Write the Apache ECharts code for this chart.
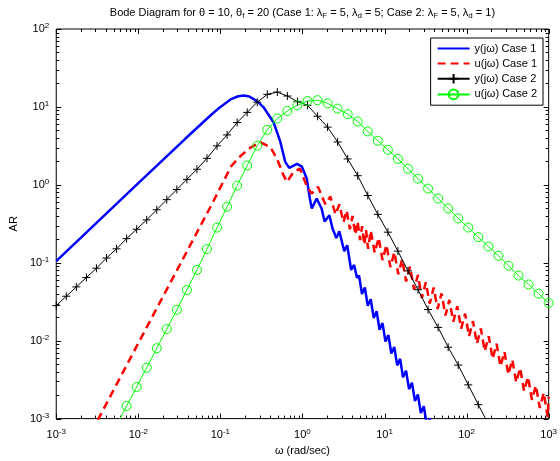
<!DOCTYPE html>
<html><head><meta charset="utf-8">
<script src="https://cdn.jsdelivr.net/npm/echarts@6/dist/echarts.min.js"></script>
<style>html,body{margin:0;padding:0;background:#fff}#c{width:560px;height:461px}</style>
</head><body><div id="c"></div>
<script>
// ---------- data ----------
const xTickValues = [0.001, 0.01, 0.1, 1, 10, 100, 1000];
const yTickValues = [0.001, 0.01, 0.1, 1, 10, 100];

// Case 1, y(jw)
const wCase1Y = [0.001, 0.01, 0.0373, 0.078, 0.1, 0.1355, 0.165, 0.194, 0.225, 0.255, 0.295, 0.336, 0.444, 0.538, 0.617, 0.689, 0.859, 0.986, 1.13, 1.23, 1.30, 1.49, 1.71, 1.86, 2.13, 2.32, 2.59, 2.81, 3.23, 3.51, 3.92, 4.26, 4.62,
  4.89, 5.31, 5.76, 6.25, 6.79, 7.38, 8.01, 8.70, 9.45, 10.27, 11.15, 12.11, 13.15, 14.28, 15.5, 16.8, 18.3, 19.9, 21.6, 23.5, 25.5, 27.7, 30.1, 32.7, 35.6, 38.6];
const arCase1Y = [0.105, 1.05, 3.9, 8.0, 10.0, 12.6, 13.7, 14.0, 13.6, 12.6, 11.3, 9.89, 6.37, 3.55, 1.97, 1.65, 1.86, 1.71, 1.20, 0.667, 0.498, 0.667, 0.498, 0.340, 0.406, 0.277, 0.207, 0.254, 0.141, 0.168, 0.0809, 0.0937, 0.0641,
  0.0685, 0.0397, 0.0481, 0.0280, 0.0340, 0.0196, 0.0239, 0.0138, 0.0168, 0.00974, 0.0118, 0.00685, 0.00831, 0.00482, 0.00584, 0.00339, 0.00412, 0.00239, 0.00289, 0.00168, 0.00204, 0.00118, 0.00144, 0.00083, 0.00101, 0.0006];

// Case 1, u(jw)
const wCase1U = [0.0027, 0.01, 0.0373, 0.08, 0.1355, 0.178, 0.235, 0.310, 0.408, 0.491, 0.589, 0.647, 0.777, 0.933, 1.12, 1.29, 1.55,
  1.90, 2.19, 2.53, 2.82, 3.16, 3.45, 3.79, 4.07, 4.41, 4.70, 5.04, 5.33, 5.67, 5.96, 6.30,
  6.80, 7.59, 8.48, 9.46, 10.57, 11.80, 13.18, 14.72, 16.43, 18.34, 20.48, 22.87, 25.54, 28.52, 31.84, 35.56, 39.71, 44.34, 49.51, 55.28, 61.72, 68.92, 76.96, 85.93, 95.94,
  107.1, 119.6, 133.6, 149.2, 166.6, 186.0, 207.7, 231.9, 258.9, 289.1, 322.8, 360.6, 402.5, 449.5, 502.0, 560.4, 625.8, 698.7, 780.2, 871.1, 972.7, 1000];
const arCase1U = [0.00068, 0.0093, 0.127, 0.582, 1.74, 2.37, 3.03, 3.51, 3.03, 2.15, 1.32, 1.09, 1.46, 1.61, 0.986, 0.773, 0.94,
  0.562, 0.708, 0.417, 0.562, 0.331, 0.468, 0.269, 0.398, 0.229, 0.339, 0.195, 0.295, 0.170, 0.263, 0.151,
  0.259, 0.134, 0.209, 0.108, 0.170, 0.0879, 0.137, 0.0711, 0.111, 0.0575, 0.0891, 0.0453, 0.0695, 0.0353, 0.0561, 0.0299, 0.0480, 0.0255, 0.0404, 0.0211, 0.0334, 0.0175, 0.0277, 0.0143, 0.0222,
  0.0114, 0.0178, 0.00916, 0.0143, 0.00733, 0.0114, 0.00586, 0.00912, 0.00467, 0.00721, 0.00369, 0.00570, 0.00292, 0.00446, 0.00225, 0.00344, 0.00174, 0.00266, 0.00137, 0.00215, 0.00105, 0.0019];

// Case 2 frequency grid (marker positions)
const wCase2 = [0.001, 0.001326, 0.001758, 0.00233, 0.003089, 0.004095, 0.005429, 0.007197, 0.009541, 0.01265,
  0.01677, 0.02223, 0.02947, 0.03907, 0.05179, 0.06866, 0.09103, 0.1207, 0.16, 0.2121,
  0.2812, 0.3728, 0.4942, 0.6551, 0.8685, 1.151, 1.526, 2.024, 2.683, 3.556,
  4.715, 6.251, 8.286, 10.99, 14.56, 19.31, 25.6, 33.93, 44.98, 59.64,
  79.06, 104.8, 138.9, 184.2, 244.2, 323.7, 429.2, 568.9, 754.3, 1000];
const arCase2Y = [0.0282, 0.0372, 0.049, 0.0646, 0.0851, 0.115, 0.151, 0.204, 0.269, 0.355,
  0.479, 0.646, 0.871, 1.175, 1.585, 2.19, 3.16, 4.37, 6.31, 8.51,
  11.5, 14.5, 15.5, 13.8, 11.7, 10.5, 7.59, 5.5, 3.55, 2.15,
  1.31, 0.73, 0.418, 0.247, 0.141, 0.0787, 0.0451, 0.0251, 0.0148, 0.00824,
  0.00486, 0.00271, 0.00151, 0.00085, null, null, null, null, null, null];
const arCase2U = [null, null, null, null, null, null, 0.00082, 0.00145, 0.00255, 0.0045,
  0.008, 0.0141, 0.0249, 0.0447, 0.0809, 0.15, 0.283, 0.524, 0.977, 1.77,
  3.18, 5.08, 7.1, 8.87, 10.5, 11.9, 12.2, 11.1, 9.51, 8.06,
  6.5, 4.85, 3.68, 2.81, 2.15, 1.61, 1.2, 0.895, 0.667, 0.498,
  0.371, 0.283, 0.213, 0.162, 0.123, 0.0918, 0.0685, 0.0526, 0.0401, 0.0305];

const seriesNames = ['y(jω) Case 1', 'u(jω) Case 1', 'y(jω) Case 2', 'u(jω) Case 2'];

// ---------- chart ----------
const F = '"Liberation Sans", Arial, Helvetica, sans-serif';
const pairs = (xs, ys) => xs.map((x, i) => [x, ys[i]]);
const expLabel = v => '{b|10}{s|' + Math.round(Math.log10(v)) + '}';
const labelRich = {
  b: {fontSize: 11, fontFamily: F, color: '#000', lineHeight: 14, verticalAlign: 'middle'},
  s: {fontSize: 8, fontFamily: F, color: '#000', lineHeight: 5, verticalAlign: 'top'}
};

const chart = echarts.init(document.getElementById('c'), null, {renderer: 'canvas'});
const option = {
  animation: false,
  textStyle: {fontFamily: F},
  grid: {left: 52, right: 7, top: 29, bottom: 39, show: true, borderColor: '#000', borderWidth: 1, backgroundColor: '#fff'},
  xAxis: {
    type: 'log', logBase: 10, min: xTickValues[0], max: xTickValues[xTickValues.length - 1],
    axisLine: {show: false}, axisTick: {show: false}, splitLine: {show: false}, minorTick: {show: false},
    axisLabel: {formatter: expLabel, rich: labelRich, margin: 9, showMinLabel: true, showMaxLabel: true},
    name: 'ω (rad/sec)', nameLocation: 'middle', nameGap: 23,
    nameTextStyle: {fontSize: 11, fontFamily: F, color: '#000'}
  },
  yAxis: {
    type: 'log', logBase: 10, min: yTickValues[0], max: yTickValues[yTickValues.length - 1],
    axisLine: {show: false}, axisTick: {show: false}, splitLine: {show: false}, minorTick: {show: false},
    axisLabel: {formatter: expLabel, rich: labelRich, margin: 7, showMinLabel: true, showMaxLabel: true},
    name: 'AR', nameLocation: 'middle', nameGap: 31,
    nameTextStyle: {fontSize: 11, fontFamily: F, color: '#000'}
  },
  legend: {
    orient: 'vertical', right: 17, top: 38,
    backgroundColor: '#fff', borderColor: '#000', borderWidth: 1,
    padding: [5, 6, 5, 6], itemGap: 4, itemWidth: 32, itemHeight: 12,
    textStyle: {fontSize: 11, fontFamily: F, color: '#000'},
    data: [
      {name: seriesNames[0], itemStyle: {opacity: 0}},
      {name: seriesNames[1], itemStyle: {opacity: 0}},
      {name: seriesNames[2]},
      {name: seriesNames[3]}
    ]
  },
  series: [
    {name: seriesNames[0], type: 'line', data: pairs(wCase1Y, arCase1Y), symbol: 'none', showSymbol: false,
     lineStyle: {color: '#0000ff', width: 2.5}, itemStyle: {color: '#0000ff'}, emphasis: {disabled: true}, silent: true},
    {name: seriesNames[1], type: 'line', data: pairs(wCase1U, arCase1U), symbol: 'none', showSymbol: false,
     lineStyle: {color: '#ff0000', width: 2.5, type: [8, 5]}, itemStyle: {color: '#ff0000'}, emphasis: {disabled: true}, silent: true},
    {name: seriesNames[2], type: 'line', data: pairs(wCase2, arCase2Y), symbol: 'path://M0,5L10,5M5,0L5,10', symbolSize: 8, showSymbol: true,
     lineStyle: {color: '#000', width: 1}, itemStyle: {color: 'rgba(0,0,0,0)', borderColor: '#000', borderWidth: 1}, emphasis: {disabled: true}, silent: true},
    {name: seriesNames[3], type: 'line', data: pairs(wCase2, arCase2U), symbol: 'circle', symbolSize: 9, showSymbol: true,
     lineStyle: {color: '#00ff00', width: 1}, itemStyle: {color: 'rgba(0,0,0,0)', borderColor: '#00ff00', borderWidth: 1}, emphasis: {disabled: true}, silent: true}
  ]
};
chart.setOption(option);

// ticks on all four sides (major + log minor), placed through the axes' own scales
const xp = v => chart.convertToPixel({xAxisIndex: 0}, v);
const yp = v => chart.convertToPixel({yAxisIndex: 0}, v);
const L = xp(xTickValues[0]), R = xp(xTickValues[xTickValues.length - 1]);
const B = yp(yTickValues[0]), T = yp(yTickValues[yTickValues.length - 1]);
const g = [];
const seg = (x1, y1, x2, y2) => g.push({type: 'line', silent: true, z: 1,
  shape: {x1, y1, x2, y2}, style: {stroke: '#000', lineWidth: 1}});
function ticksFor(vals, isX) {
  for (let i = 0; i < vals.length; i++) {
    for (let m = 1; m <= (i === vals.length - 1 ? 1 : 9); m++) {
      const v = vals[i] * m;
      const len = m === 1 ? 5 : 3;
      if (isX) {
        const x = Math.round(xp(v)) + 0.5;
        seg(x, B, x, B - len); seg(x, T, x, T + len);
      } else {
        const y = Math.round(yp(v)) + 0.5;
        seg(L, y, L + len, y); seg(R, y, R - len, y);
      }
    }
  }
}
ticksFor(xTickValues, true);
ticksFor(yTickValues, false);

// title with subscripts
const tr = (t) => '{n|' + t + '}';
const ts = (t) => '{u|' + t + '}';
const titleText = tr('Bode Diagram for θ = 10, θ') + ts('f') + tr(' = 20 (Case 1: λ') + ts('F') + tr(' = 5, λ') + ts('d') +
  tr(' = 5; Case 2: λ') + ts('F') + tr(' = 5, λ') + ts('d') + tr(' = 1)');
g.push({type: 'text', silent: true, x: (L + R) / 2, y: 13,
  style: {text: titleText, align: 'center', verticalAlign: 'middle',
    rich: {n: {fontSize: 11, fontFamily: F, fill: '#000', lineHeight: 14, verticalAlign: 'middle'},
           u: {fontSize: 8, fontFamily: F, fill: '#000', lineHeight: 6, verticalAlign: 'bottom'}}}});
chart.setOption({graphic: g});
</script>
</body></html>
